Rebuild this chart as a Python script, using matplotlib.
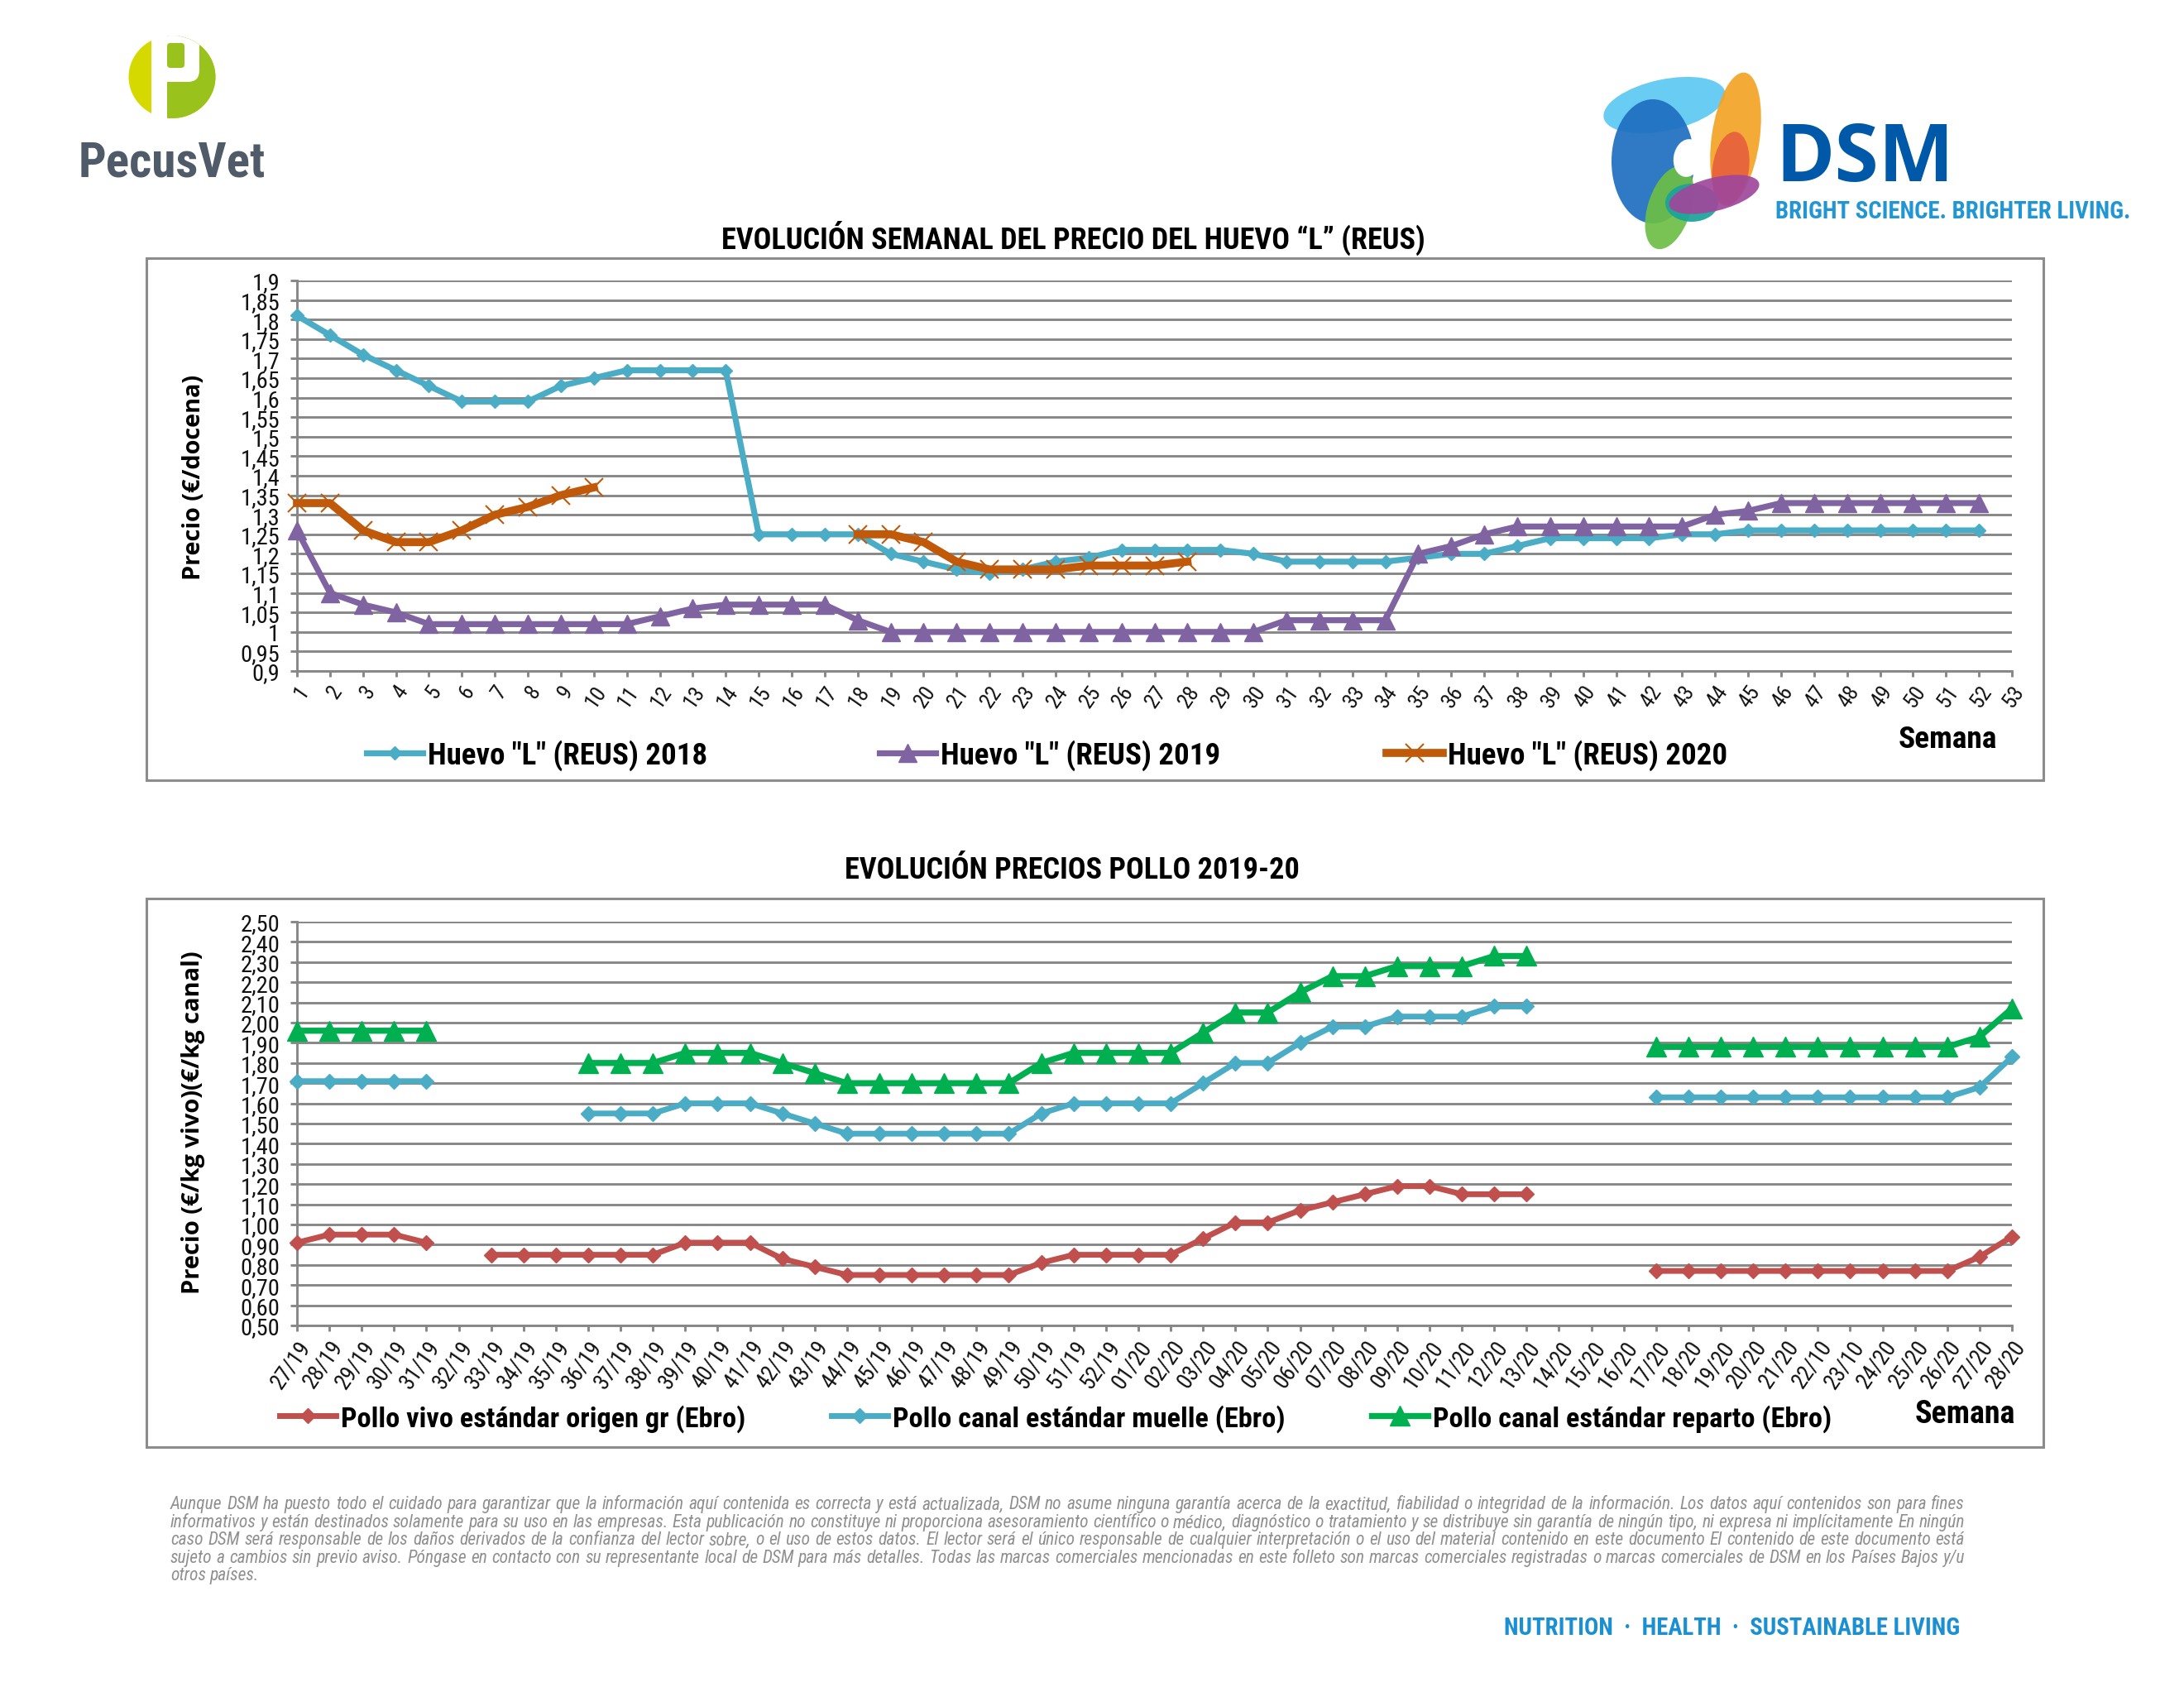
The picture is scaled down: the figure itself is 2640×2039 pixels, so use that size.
import matplotlib
matplotlib.use("Agg")
import matplotlib.pyplot as plt
import numpy as np
from matplotlib.patches import Rectangle, Ellipse, FancyBboxPatch

# ---------------- data: huevo "L" (Reus) ----------------
semanas = list(range(1, 54))
etiquetas_y_huevo = ["0,9", "0,95", "1", "1,05", "1,1", "1,15", "1,2", "1,25", "1,3", "1,35", "1,4",
                     "1,45", "1,5", "1,55", "1,6", "1,65", "1,7", "1,75", "1,8", "1,85", "1,9"]
huevo_2018 = [1.81, 1.76, 1.71, 1.67, 1.63, 1.59, 1.59, 1.59, 1.63, 1.65,
              1.67, 1.67, 1.67, 1.67, 1.25, 1.25, 1.25, 1.25, 1.20, 1.18,
              1.16, 1.15, 1.16, 1.18, 1.19, 1.21, 1.21, 1.21, 1.21, 1.20,
              1.18, 1.18, 1.18, 1.18, 1.19, 1.20, 1.20, 1.22, 1.24, 1.24,
              1.24, 1.24, 1.25, 1.25, 1.26, 1.26, 1.26, 1.26, 1.26, 1.26,
              1.26, 1.26, None]
huevo_2019 = [1.26, 1.10, 1.07, 1.05, 1.02, 1.02, 1.02, 1.02, 1.02, 1.02,
              1.02, 1.04, 1.06, 1.07, 1.07, 1.07, 1.07, 1.03, 1.00, 1.00,
              1.00, 1.00, 1.00, 1.00, 1.00, 1.00, 1.00, 1.00, 1.00, 1.00,
              1.03, 1.03, 1.03, 1.03, 1.20, 1.22, 1.25, 1.27, 1.27, 1.27,
              1.27, 1.27, 1.27, 1.30, 1.31, 1.33, 1.33, 1.33, 1.33, 1.33,
              1.33, 1.33, None]
huevo_2020 = [1.33, 1.33, 1.26, 1.23, 1.23, 1.26, 1.30, 1.32, 1.35, 1.37,
              None, None, None, None, None, None, None, 1.25, 1.25, 1.23,
              1.18, 1.16, 1.16, 1.16, 1.17, 1.17, 1.17, 1.18, None, None,
              None, None, None, None, None, None, None, None, None, None,
              None, None, None, None, None, None, None, None, None, None,
              None, None, None]
series_huevo = ['Huevo "L" (REUS) 2018', 'Huevo "L" (REUS) 2019', 'Huevo "L" (REUS) 2020']

# ---------------- data: pollo 2019-20 ----------------
semanas_pollo = ["27/19", "28/19", "29/19", "30/19", "31/19", "32/19", "33/19", "34/19", "35/19",
                 "36/19", "37/19", "38/19", "39/19", "40/19", "41/19", "42/19", "43/19", "44/19",
                 "45/19", "46/19", "47/19", "48/19", "49/19", "50/19", "51/19", "52/19", "01/20",
                 "02/20", "03/20", "04/20", "05/20", "06/20", "07/20", "08/20", "09/20", "10/20",
                 "11/20", "12/20", "13/20", "14/20", "15/20", "16/20", "17/20", "18/20", "19/20",
                 "20/20", "21/20", "22/10", "23/10", "24/20", "25/20", "26/20", "27/20", "28/20"]
etiquetas_y_pollo = ["0,50", "0,60", "0,70", "0,80", "0,90", "1,00", "1,10", "1,20", "1,30", "1,40",
                     "1,50", "1,60", "1,70", "1,80", "1,90", "2,00", "2,10", "2,20", "2,30", "2,40", "2,50"]
pollo_vivo = [0.91, 0.95, 0.95, 0.95, 0.91, None, 0.85, 0.85, 0.85, 0.85,
              0.85, 0.85, 0.91, 0.91, 0.91, 0.83, 0.79, 0.75, 0.75, 0.75,
              0.75, 0.75, 0.75, 0.81, 0.85, 0.85, 0.85, 0.85, 0.93, 1.01,
              1.01, 1.07, 1.11, 1.15, 1.19, 1.19, 1.15, 1.15, 1.15, None,
              None, None, 0.77, 0.77, 0.77, 0.77, 0.77, 0.77, 0.77, 0.77,
              0.77, 0.77, 0.84, 0.94]
pollo_muelle = [1.71, 1.71, 1.71, 1.71, 1.71, None, None, None, None, 1.55,
                1.55, 1.55, 1.60, 1.60, 1.60, 1.55, 1.50, 1.45, 1.45, 1.45,
                1.45, 1.45, 1.45, 1.55, 1.60, 1.60, 1.60, 1.60, 1.70, 1.80,
                1.80, 1.90, 1.98, 1.98, 2.03, 2.03, 2.03, 2.08, 2.08, None,
                None, None, 1.63, 1.63, 1.63, 1.63, 1.63, 1.63, 1.63, 1.63,
                1.63, 1.63, 1.68, 1.83]
pollo_reparto = [1.96, 1.96, 1.96, 1.96, 1.96, None, None, None, None, 1.80,
                 1.80, 1.80, 1.85, 1.85, 1.85, 1.80, 1.75, 1.70, 1.70, 1.70,
                 1.70, 1.70, 1.70, 1.80, 1.85, 1.85, 1.85, 1.85, 1.95, 2.05,
                 2.05, 2.15, 2.23, 2.23, 2.28, 2.28, 2.28, 2.33, 2.33, None,
                 None, None, 1.88, 1.88, 1.88, 1.88, 1.88, 1.88, 1.88, 1.88,
                 1.88, 1.88, 1.93, 2.07]
series_pollo = ["Pollo vivo estándar origen gr (Ebro)", "Pollo canal estándar muelle (Ebro)",
                "Pollo canal estándar reparto (Ebro)"]

titulo_huevo = "EVOLUCIÓN SEMANAL DEL PRECIO DEL HUEVO “L” (REUS)"
titulo_pollo = "EVOLUCIÓN PRECIOS POLLO 2019-20"

aviso = [
    "Aunque DSM ha puesto todo el cuidado para garantizar que la información aquí contenida es correcta y está actualizada, DSM no asume ninguna garantía acerca de la exactitud, fiabilidad o integridad de la información. Los datos aquí contenidos son para fines",
    "informativos y están destinados solamente para su uso en las empresas. Esta publicación no constituye ni proporciona asesoramiento científico o médico, diagnóstico o tratamiento y se distribuye sin garantía de ningún tipo, ni expresa ni implícitamente En ningún",
    "caso DSM será responsable de los daños derivados de la confianza del lector sobre, o el uso de estos datos. El lector será el único responsable de cualquier interpretación o el uso del material contenido en este documento El contenido de este documento está",
    "sujeto a cambios sin previo aviso. Póngase en contacto con su representante local de DSM para más detalles. Todas las marcas comerciales mencionadas en este folleto son marcas comerciales registradas o marcas comerciales de DSM en los Países Bajos y/u",
    "otros países.",
]

# ---------------- setup ----------------
W, H, DPI = 2640, 2040, 100
COND = ["Liberation Sans Narrow", "Roboto Condensed", "Roboto", "DejaVu Sans"]
BOLDF = ["Open Sans", "DejaVu Sans"]
plt.rcParams["font.family"] = COND

fig = plt.figure(figsize=(W / DPI, H / DPI), dpi=DPI, facecolor="white")
R = fig.canvas.get_renderer()

bg = fig.add_axes([0, 0, 1, 1])
bg.set_xlim(0, W)
bg.set_ylim(H, 0)
bg.axis("off")


def fit(t, size, along="width"):
    bb = t.get_window_extent(renderer=R)
    cur = bb.width if along == "width" else bb.height
    t.set_fontsize(t.get_fontsize() * size / cur)
    return t


def size_for(s, width, **kw):
    t = bg.text(0, 0, s, fontsize=20, **kw)
    bb = t.get_window_extent(renderer=R)
    t.remove()
    return 20 * width / bb.width


def ax_rect(x0, y0, x1, y1):
    return [x0 / W, 1 - y1 / H, (x1 - x0) / W, (y1 - y0) / H]


GRID = "#878787"


def style(ax, ylab_size, xlab_size):
    ax.set_facecolor("none")
    for s in ("top", "right"):
        ax.spines[s].set_visible(False)
    for s in ("left", "bottom"):
        ax.spines[s].set_color(GRID)
        ax.spines[s].set_linewidth(2.1)
    ax.yaxis.grid(True, color=GRID, lw=2.1)
    ax.set_axisbelow(True)
    ax.tick_params(axis="y", length=6, width=2.1, color=GRID, pad=9, labelsize=ylab_size, labelcolor="#111111")
    ax.tick_params(axis="x", length=5, width=2.1, color=GRID, pad=4, labelsize=xlab_size, labelcolor="#111111")


# ---------------- frames ----------------
for (x0, y0, x1, y1) in [(177, 313, 2470, 944), (177, 1087, 2470, 1750)]:
    bg.add_patch(Rectangle((x0, y0), x1 - x0, y1 - y0, fill=False, ec="#8c8c8c", lw=2.2))

# ---------------- top chart ----------------
C18, C19, C20 = "#4BACC6", "#8064A2", "#C05A0A"
ax1 = fig.add_axes(ax_rect(359, 340, 2432, 812))
style(ax1, 20.5, 19)
l18, = ax1.plot(semanas, np.array(huevo_2018, dtype=float), color=C18, lw=5.2, marker="D", ms=8,
                mec=C18, clip_on=False, zorder=3)
l19, = ax1.plot(semanas, np.array(huevo_2019, dtype=float), color=C19, lw=5.2, marker="^", ms=16,
                mec=C19, clip_on=False, zorder=3)
l20, = ax1.plot(semanas, np.array(huevo_2020, dtype=float), color=C20, lw=7, marker="x", ms=16,
                mew=1.5, mec=C20, clip_on=False, zorder=4)
ax1.set_xlim(1, 53)
ax1.set_ylim(0.9, 1.9)
ax1.set_yticks(np.linspace(0.9, 1.9, len(etiquetas_y_huevo)))
ax1.set_yticklabels(etiquetas_y_huevo)
ax1.set_xticks(semanas)
ax1.set_xticklabels([str(s) for s in semanas], rotation=55, ha="right", va="top", rotation_mode="anchor")

# ---------------- bottom chart ----------------
CV, CM, CR = "#C0504D", "#4BACC6", "#00B050"
ax2 = fig.add_axes(ax_rect(359, 1115, 2432, 1603))
style(ax2, 20.5, 19.5)
xp = np.arange(len(semanas_pollo))
lv, = ax2.plot(xp, np.array(pollo_vivo, dtype=float), color=CV, lw=5, marker="D", ms=9,
               mec=CV, clip_on=False, zorder=3)
lm, = ax2.plot(xp, np.array(pollo_muelle, dtype=float), color=CM, lw=5, marker="D", ms=9,
               mec=CM, clip_on=False, zorder=3)
lr, = ax2.plot(xp, np.array(pollo_reparto, dtype=float), color=CR, lw=5.3, marker="^", ms=17,
               mec=CR, clip_on=False, zorder=3)
ax2.set_xlim(0, len(semanas_pollo) - 1)
ax2.set_ylim(0.5, 2.5)
ax2.set_yticks(np.linspace(0.5, 2.5, len(etiquetas_y_pollo)))
ax2.set_yticklabels(etiquetas_y_pollo)
ax2.set_xticks(xp)
ax2.set_xticklabels(semanas_pollo, rotation=55, ha="right", va="top", rotation_mode="anchor")

# ---------------- titles / axis labels ----------------
fit(bg.text(1297, 288, titulo_huevo, ha="center", va="center", fontweight="bold", fontsize=22), 848)
fit(bg.text(1296, 1052, titulo_pollo, ha="center", va="center", fontweight="bold", fontsize=22), 548)
fit(bg.text(235, 577, "Precio (€/docena)", rotation=90, ha="center", va="center", fontweight="bold",
            family=BOLDF, fontsize=20), 250, along="height")
fit(bg.text(234, 1357, "Precio (€/kg vivo)(€/kg canal)", rotation=90, ha="center", va="center",
            fontweight="bold", family=BOLDF, fontsize=20), 415, along="height")
fit(bg.text(2414, 894, "Semana", ha="right", va="center", fontweight="bold", fontsize=24), 120)
fit(bg.text(2436, 1710, "Semana", ha="right", va="center", fontweight="bold", fontsize=24), 122)

# ---------------- legends ----------------
def add_legend(handle, label, x_px, y_px, fs):
    em = fs * DPI / 72
    fig.legend([handle], [label], loc="center left", bbox_to_anchor=(x_px / W, 1 - y_px / H),
               frameon=False, borderpad=0, borderaxespad=0, handlelength=68 / em,
               handletextpad=6 / em, prop={"weight": "bold", "size": fs})

fs_top = size_for(series_huevo[2], 338, fontweight="bold")
for h, lab, x in zip([l18, l19, l20], series_huevo, [443, 1063, 1676]):
    add_legend(h, lab, x, 913, fs_top)
fs_bot = size_for(series_pollo[0], 488, fontweight="bold")
for h, lab, x in zip([lv, lm, lr], series_pollo, [338, 1005, 1658]):
    add_legend(h, lab, x, 1715, fs_bot)

# ---------------- disclaimer (justified) ----------------
X0, X1 = 206, 2375
widths = []
for line in aviso[:4]:
    t = bg.text(0, 0, line, fontsize=20, style="italic")
    widths.append(t.get_window_extent(renderer=R).width)
    t.remove()
fs_av = 20 * (X1 - X0) / max(widths)
for i, line in enumerate(aviso):
    y = 1819 + i * 21.5
    words = line.split(" ")
    ts = [bg.text(0, y, w, fontsize=fs_av, style="italic", color="#909090", ha="left", va="center")
          for w in words]
    ws = [t.get_window_extent(renderer=R).width for t in ts]
    if i < 4 and len(words) > 1:
        gap = (X1 - X0 - sum(ws)) / (len(words) - 1)
    else:
        sp = bg.text(0, 0, "a a", fontsize=fs_av, style="italic")
        sa = bg.text(0, 0, "aa", fontsize=fs_av, style="italic")
        gap = sp.get_window_extent(renderer=R).width - sa.get_window_extent(renderer=R).width
        sp.remove(); sa.remove()
    x = X0
    for t, w in zip(ts, ws):
        t.set_x(x)
        x += w + gap

fit(bg.text(2369, 1968, "NUTRITION  ·  HEALTH  ·  SUSTAINABLE LIVING", ha="right", va="center",
            color="#1a8fd2", fontweight="bold", fontsize=20), 551)

# ---------------- PecusVet logo ----------------
circ = Ellipse((208, 94), 105, 100, fc="#d5d900", ec="none")
bg.add_patch(circ)
gr = Rectangle((193, 30), 80, 130, fc="#99c21c", ec="none")
bg.add_patch(gr)
gr.set_clip_path(circ)
bowl = FancyBboxPatch((202, 38), 39, 62, boxstyle="round,pad=0,rounding_size=14", fc="white", ec="none")
bg.add_patch(bowl)
bowl.set_clip_path(circ)
bg.add_patch(Rectangle((202, 38), 14, 62, fc="white", ec="none", clip_path=circ))
cnt = FancyBboxPatch((202, 53), 21, 30, boxstyle="round,pad=0,rounding_size=4", fc="#99c21c", ec="none")
bg.add_patch(cnt)
bg.add_patch(Rectangle((183, 40), 19, 110, fc="white", ec="none"))
fit(bg.text(95, 197, "PecusVet", ha="left", va="center", fontweight="bold", color="#4f5b68", fontsize=40), 226)

# ---------------- DSM logo ----------------
petals = [
    ((2012, 128), 150, 62, -12, "#5CC8F2"),
    ((1998, 196), 100, 150, 0, "#1E6EBF"),
    ((2098, 168), 58, 160, 8, "#F4A326"),
    ((2092, 205), 44, 90, 8, "#E8603C"),
    ((2018, 252), 52, 104, 18, "#6CBE45"),
    ((2045, 246), 64, 46, 0, "#1AA39A"),
    ((2072, 236), 112, 40, -14, "#A0479B"),
]
for c, w_, h_, a, col in petals:
    bg.add_patch(Ellipse(c, w_, h_, angle=a, fc=col, ec="none", alpha=0.92))
bg.add_patch(Ellipse((2040, 192), 34, 46, angle=10, fc="white", ec="none"))
fit(bg.text(2146, 193, "DSM", ha="left", va="center", fontweight="bold", color="#0059a8",
            family=BOLDF, fontsize=60), 216)
fit(bg.text(2146, 256, "BRIGHT SCIENCE. BRIGHTER LIVING.", ha="left", va="center", color="#2196d3",
            fontweight="bold", fontsize=20), 430)

fig.savefig("out.png", dpi=DPI, facecolor="white")
